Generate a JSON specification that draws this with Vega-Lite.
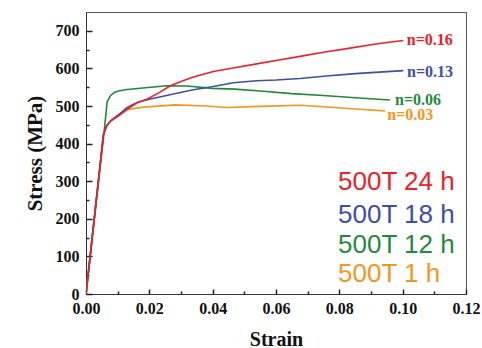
{
  "$schema": "https://vega.github.io/schema/vega-lite/v6.json",
  "width": 380,
  "height": 282,
  "autosize": {"type": "none"},
  "padding": {"left": 86, "top": 12, "right": 16, "bottom": 54},
  "background": "white",
  "config": {
    "view": {"stroke": "#555", "strokeWidth": 1},
    "axis": {
      "labelFont": "Liberation Serif",
      "labelFontWeight": "bold",
      "labelFontSize": 16,
      "labelColor": "#111",
      "titleFont": "Liberation Serif",
      "titleFontWeight": "bold",
      "titleColor": "#111"
    }
  },
  "datasets": {
    "curves": [
      {"series": "1 h", "strain": 0, "stress": 0},
      {"series": "1 h", "strain": 0.0055, "stress": 423},
      {"series": "1 h", "strain": 0.0065, "stress": 448},
      {"series": "1 h", "strain": 0.008, "stress": 462},
      {"series": "1 h", "strain": 0.0105, "stress": 478},
      {"series": "1 h", "strain": 0.0128, "stress": 490},
      {"series": "1 h", "strain": 0.0181, "stress": 497},
      {"series": "1 h", "strain": 0.0281, "stress": 503},
      {"series": "1 h", "strain": 0.038, "stress": 500},
      {"series": "1 h", "strain": 0.0444, "stress": 496},
      {"series": "1 h", "strain": 0.055, "stress": 499},
      {"series": "1 h", "strain": 0.0676, "stress": 502},
      {"series": "1 h", "strain": 0.075, "stress": 498},
      {"series": "1 h", "strain": 0.085, "stress": 492},
      {"series": "1 h", "strain": 0.0944, "stress": 487},
      {"series": "12 h", "strain": 0, "stress": 0},
      {"series": "12 h", "strain": 0.0057, "stress": 430},
      {"series": "12 h", "strain": 0.0067, "stress": 512},
      {"series": "12 h", "strain": 0.0078, "stress": 528},
      {"series": "12 h", "strain": 0.009, "stress": 536},
      {"series": "12 h", "strain": 0.0102, "stress": 540},
      {"series": "12 h", "strain": 0.013, "stress": 544},
      {"series": "12 h", "strain": 0.018, "stress": 548},
      {"series": "12 h", "strain": 0.0255, "stress": 554},
      {"series": "12 h", "strain": 0.032, "stress": 553},
      {"series": "12 h", "strain": 0.0397, "stress": 547},
      {"series": "12 h", "strain": 0.047, "stress": 545},
      {"series": "12 h", "strain": 0.055, "stress": 540},
      {"series": "12 h", "strain": 0.065, "stress": 533},
      {"series": "12 h", "strain": 0.075, "stress": 528},
      {"series": "12 h", "strain": 0.085, "stress": 522},
      {"series": "12 h", "strain": 0.096, "stress": 516},
      {"series": "18 h", "strain": 0, "stress": 0},
      {"series": "18 h", "strain": 0.0055, "stress": 425},
      {"series": "18 h", "strain": 0.0065, "stress": 448},
      {"series": "18 h", "strain": 0.008, "stress": 462},
      {"series": "18 h", "strain": 0.0105, "stress": 478},
      {"series": "18 h", "strain": 0.0128, "stress": 495},
      {"series": "18 h", "strain": 0.015, "stress": 505},
      {"series": "18 h", "strain": 0.017, "stress": 512},
      {"series": "18 h", "strain": 0.02, "stress": 518},
      {"series": "18 h", "strain": 0.0265, "stress": 530},
      {"series": "18 h", "strain": 0.0339, "stress": 543},
      {"series": "18 h", "strain": 0.0402, "stress": 552},
      {"series": "18 h", "strain": 0.0465, "stress": 562},
      {"series": "18 h", "strain": 0.0539, "stress": 567},
      {"series": "18 h", "strain": 0.06, "stress": 569},
      {"series": "18 h", "strain": 0.0676, "stress": 573},
      {"series": "18 h", "strain": 0.075, "stress": 579},
      {"series": "18 h", "strain": 0.085, "stress": 586},
      {"series": "18 h", "strain": 0.1002, "stress": 594},
      {"series": "24 h", "strain": 0, "stress": 0},
      {"series": "24 h", "strain": 0.0055, "stress": 423},
      {"series": "24 h", "strain": 0.0065, "stress": 445},
      {"series": "24 h", "strain": 0.0076, "stress": 459},
      {"series": "24 h", "strain": 0.01, "stress": 472},
      {"series": "24 h", "strain": 0.0128, "stress": 490},
      {"series": "24 h", "strain": 0.016, "stress": 508},
      {"series": "24 h", "strain": 0.0192, "stress": 518},
      {"series": "24 h", "strain": 0.023, "stress": 535},
      {"series": "24 h", "strain": 0.0265, "stress": 553},
      {"series": "24 h", "strain": 0.03, "stress": 565},
      {"series": "24 h", "strain": 0.0339, "stress": 577},
      {"series": "24 h", "strain": 0.0402, "stress": 592},
      {"series": "24 h", "strain": 0.0465, "stress": 601},
      {"series": "24 h", "strain": 0.0539, "stress": 612},
      {"series": "24 h", "strain": 0.06, "stress": 621},
      {"series": "24 h", "strain": 0.0676, "stress": 632},
      {"series": "24 h", "strain": 0.075, "stress": 643},
      {"series": "24 h", "strain": 0.0834, "stress": 654},
      {"series": "24 h", "strain": 0.09, "stress": 663},
      {"series": "24 h", "strain": 0.095, "stress": 669},
      {"series": "24 h", "strain": 0.1002, "stress": 674}
    ],
    "nlabels": [
      {"series": "24 h", "strain": 0.1013, "stress": 676, "label": "n=0.16"},
      {"series": "18 h", "strain": 0.1014, "stress": 591, "label": "n=0.13"},
      {"series": "12 h", "strain": 0.0976, "stress": 516, "label": "n=0.06"},
      {"series": "1 h", "strain": 0.0951, "stress": 476, "label": "n=0.03"}
    ],
    "legend": [
      {"series": "24 h", "strain": 0.0796, "stress": 277, "label": "500T 24 h"},
      {"series": "18 h", "strain": 0.0796, "stress": 190, "label": "500T 18 h"},
      {"series": "12 h", "strain": 0.0796, "stress": 110, "label": "500T 12 h"},
      {"series": "1 h", "strain": 0.0796, "stress": 32, "label": "500T 1 h"}
    ]
  },
  "resolve": {"axis": {"x": "independent", "y": "independent"}},
  "layer": [
    {
      "data": {"name": "curves"},
      "mark": {"type": "line", "strokeWidth": 1.6, "clip": true},
      "encoding": {
        "x": {
          "field": "strain", "type": "quantitative",
          "scale": {"domain": [0, 0.12], "nice": false, "zero": false},
          "axis": {
            "orient": "bottom",
            "grid": false,
            "domainColor": "#333",
            "title": "Strain",
            "titleFontSize": 20,
            "titlePadding": 13,
            "values": [0, 0.02, 0.04, 0.06, 0.08, 0.1, 0.12],
            "format": ".2f",
            "ticks": true,
            "tickSize": -5,
            "tickColor": "#222",
            "tickWidth": 1.5,
            "labelPadding": 11,
            "labelFlush": false
          }
        },
        "y": {
          "field": "stress", "type": "quantitative",
          "scale": {"domain": [0, 750], "nice": false},
          "axis": {
            "orient": "left",
            "grid": false,
            "domainColor": "#333",
            "title": "Stress (MPa)",
            "titleFontSize": 21,
            "titlePadding": 10,
            "values": [0, 100, 200, 300, 400, 500, 600, 700],
            "ticks": true,
            "tickSize": -6,
            "tickColor": "#222",
            "tickWidth": 1.5,
            "labelPadding": 13
          }
        },
        "color": {
          "field": "series", "type": "nominal", "legend": null,
          "scale": {"domain": ["24 h", "18 h", "12 h", "1 h"], "range": ["#EC2028", "#3E4DAA", "#1F8A3A", "#F7941D"]}
        },
        "detail": {"field": "series"}
      }
    },
    {
      "data": {"name": "nlabels"},
      "mark": {"type": "text", "align": "left", "baseline": "middle", "font": "Liberation Serif", "fontWeight": "bold", "fontSize": 16},
      "encoding": {
        "x": {
          "field": "strain", "type": "quantitative",
          "axis": {
            "orient": "bottom",
            "grid": false,
            "title": null, "domain": false, "labels": false,
            "values": [0.01, 0.03, 0.05, 0.07, 0.09, 0.11],
            "ticks": true,
            "tickSize": -3,
            "tickColor": "#222",
            "tickWidth": 1.5
          }
        },
        "y": {
          "field": "stress", "type": "quantitative",
          "axis": {
            "orient": "left",
            "grid": false,
            "title": null, "domain": false, "labels": false,
            "values": [50, 150, 250, 350, 450, 550, 650],
            "ticks": true,
            "tickSize": -3,
            "tickColor": "#222",
            "tickWidth": 1.5
          }
        },
        "color": {"field": "series", "type": "nominal", "legend": null},
        "text": {"field": "label"}
      }
    },
    {
      "data": {"name": "legend"},
      "mark": {"type": "text", "align": "left", "baseline": "alphabetic", "font": "Liberation Sans", "fontSize": 26},
      "encoding": {
        "x": {"field": "strain", "type": "quantitative", "axis": null},
        "y": {"field": "stress", "type": "quantitative", "axis": null},
        "color": {"field": "series", "type": "nominal", "legend": null},
        "text": {"field": "label"}
      }
    }
  ]
}
